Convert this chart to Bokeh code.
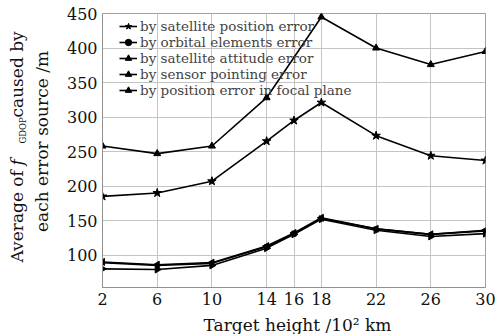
import math
from bokeh.plotting import figure
from bokeh.layouts import row
from bokeh.models import Label, Legend, LegendItem, FixedTicker, Range1d, ColumnDataSource
from bokeh.embed import file_html
from bokeh.resources import INLINE

# ---- data ----
heights = [2, 6, 10, 14, 16, 18, 22, 26, 30]
focal_heights = [2, 6, 10, 14, 18, 22, 26, 30]
sat_position = [185, 190, 207, 265, 295, 321, 273, 244, 237]
orbital = [89, 85, 88, 112, 131, 153, 138, 130, 135]
attitude = [90, 86, 89, 113, 132, 154, 138, 130, 136]
pointing = [80, 79, 85, 110, 130, 152, 136, 127, 131]
focal_plane = [258, 247, 258, 328, 445, 400, 376, 395]
x_ticks = [2, 6, 10, 14, 16, 18, 22, 26, 30]
y_ticks = [100, 150, 200, 250, 300, 350, 400, 450]
legend_labels = ["by satellite position error", "by orbital elements error",
                 "by satellite attitude error", "by sensor pointing error",
                 "by position error in focal plane"]

FONT = "DejaVu Serif"
INK = "#111111"

# ---- main chart ----
p = figure(width=438, height=334, output_backend="svg", toolbar_location=None,
           x_range=Range1d(2, 30), y_range=Range1d(53, 450),
           min_border_left=42, min_border_right=13, min_border_top=13, min_border_bottom=47)
p.background_fill_color = "white"
p.border_fill_color = "white"
p.outline_line_color = "#a0a0a0"

p.xaxis.ticker = FixedTicker(ticks=x_ticks)
p.yaxis.ticker = FixedTicker(ticks=y_ticks)
for ax in (p.xaxis, p.yaxis):
    ax.axis_line_color = "#909090"
    ax.major_tick_out = 0
    ax.major_tick_in = 0
    ax.minor_tick_line_color = None
    ax.major_label_text_font = FONT
    ax.major_label_text_font_size = "16px"
    ax.major_label_text_color = INK
    ax.major_label_standoff = 5
p.xgrid.grid_line_color = "#c4c4c4"
p.ygrid.grid_line_color = "#c4c4c4"
p.xgrid.ticker = FixedTicker(ticks=x_ticks)
p.ygrid.ticker = FixedTicker(ticks=y_ticks)

series = [
    (heights, sat_position, "star", 9, 0.0),
    (heights, orbital, "circle", 4, 0.0),
    (heights, attitude, "triangle", 7, math.pi / 2),
    (heights, pointing, "triangle", 7, -math.pi / 2),
    (focal_heights, focal_plane, "triangle", 7, 0.0),
]
items = []
for (xs, ys, mk, sz, ang), lab in zip(series, legend_labels):
    src = ColumnDataSource(dict(x=xs, y=ys, a=[ang] * len(xs)))
    lr = p.line("x", "y", source=src, line_color="black", line_width=1.6)
    sr = p.scatter("x", "y", source=src, marker=mk, size=sz, angle="a",
                   fill_color="black", line_color="black")
    items.append(LegendItem(label=lab, renderers=[lr, sr], index=0))

leg = Legend(items=items, location=(17, 189), padding=0, margin=0, spacing=0,
             glyph_width=18, glyph_height=16, label_height=16, label_standoff=3,
             label_text_font=FONT, label_text_font_size="13.5px",
             border_line_alpha=0, background_fill_alpha=0)
p.add_layout(leg)

p.add_layout(Label(text="Target height /10\u00b2 km", x=195, y=-7, x_units="screen", y_units="screen",
                   text_font=FONT, text_font_size="17px", text_align="center",
                   text_baseline="bottom", text_color=INK), "below")

# ---- y-axis title strip (frame aligned with the main chart: page y 13..287) ----
t = figure(width=60, height=334, output_backend="svg", toolbar_location=None,
           x_range=Range1d(0, 1), y_range=Range1d(0, 1),
           x_axis_location=None, y_axis_location=None,
           min_border_left=0, min_border_right=0, min_border_top=13, min_border_bottom=47)
t.grid.visible = False
t.outline_line_color = None
t.background_fill_color = "white"
t.border_fill_color = "white"

def vlab(text, x, y, size="17px", style="normal", align="left"):
    t.add_layout(Label(text=text, x=x, y=y, x_units="screen", y_units="screen",
                       angle=math.pi / 2, text_font=FONT, text_font_size=size,
                       text_font_style=style, text_align=align,
                       text_baseline="middle", text_color=INK))

vlab("Average of", 16, 25)
vlab("f", 16, 122, style="italic")
vlab("GDOP", 22, 144, size="8.5px")
vlab("caused by", 16, 170)
vlab("each error source /m", 41, 146, align="center")

open("out.html", "w").write(file_html(row(t, p), INLINE))
